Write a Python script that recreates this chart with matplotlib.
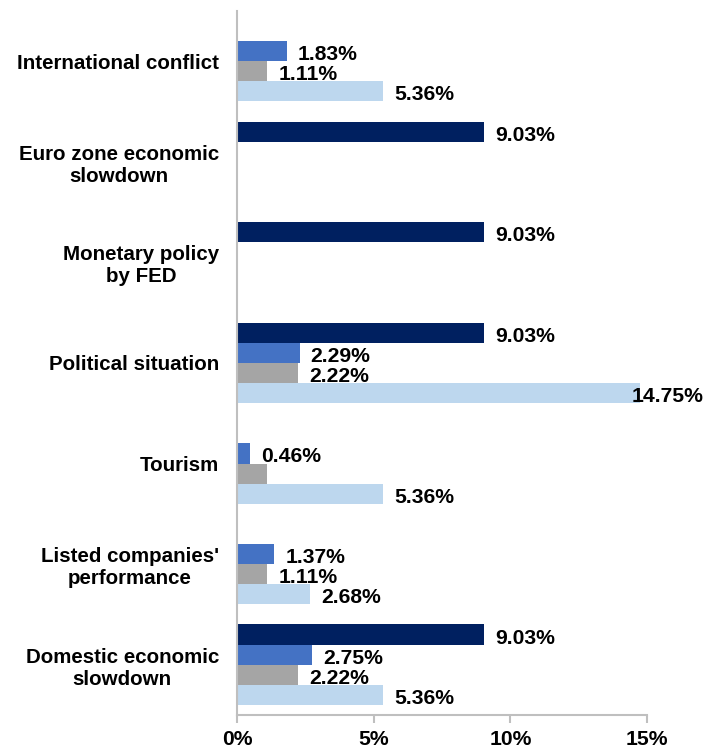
import matplotlib
matplotlib.use("Agg")
import matplotlib.pyplot as plt
import numpy as np

plt.rcParams['font.family'] = ['Liberation Sans', 'DejaVu Sans']

categories = ["International conflict", "Euro zone economic\nslowdown", "Monetary policy\nby FED",
              "Political situation", "Tourism", "Listed companies'\nperformance", "Domestic economic\nslowdown"]
series_navy = [0, 9.03, 9.03, 9.03, 0, 0, 9.03]
series_blue = [1.83, 0, 0, 2.29, 0.46, 1.37, 2.75]
series_gray = [1.11, 0, 0, 2.22, 1.11, 1.11, 2.22]
series_light = [5.36, 0, 0, 14.75, 5.36, 2.68, 5.36]
# which labels are shown (tourism gray label absent in reference)
show_gray = [True, False, False, True, False, True, True]
xticks = [0, 5, 10, 15]
xtick_labels = ["0%", "5%", "10%", "15%"]

colors = ["#002060", "#4472C4", "#A5A5A5", "#BDD7EE"]
series = [series_navy, series_blue, series_gray, series_light]
offsets = [-0.3, -0.1, 0.1, 0.3]

fig = plt.figure(figsize=(7.16, 7.49), dpi=100)
ax = fig.add_axes([0.331, 0.0454, 0.5726, 0.94])

y = np.arange(len(categories))
FS_CAT = 14.8
FS_LBL = 15.2
for si, (vals, col, off) in enumerate(zip(series, colors, offsets)):
    ax.barh(y + off, vals, height=0.2, color=col, zorder=2)
    for i, v in enumerate(vals):
        if v <= 0:
            continue
        if si == 2 and not show_gray[i]:
            continue
        lbl = f"{v:.2f}%"
        if v > 14:
            ax.annotate(lbl, xy=(1.0, y[i] + off), xycoords=('figure fraction', 'data'),
                        xytext=(-9, -2.5), textcoords='offset points',
                        ha='right', va='center', fontsize=FS_LBL, fontweight='bold', color='black',
                        annotation_clip=False, zorder=5)
        else:
            ax.annotate(lbl, xy=(v, y[i] + off), xytext=(8, -2.5), textcoords='offset points',
                        ha='left', va='center', fontsize=FS_LBL, fontweight='bold', color='black',
                        annotation_clip=False, zorder=5)

ax.set_ylim(len(categories) - 0.5, -0.5)
ax.set_xlim(0, 15)
ax.set_yticks(y)
ax.set_yticklabels(categories, fontsize=FS_CAT, fontweight='bold', ha='right', multialignment='center')
ax.tick_params(axis='y', length=0, pad=13)
ax.set_xticks(xticks)
ax.set_xticklabels(xtick_labels, fontsize=FS_LBL, fontweight='bold')
ax.tick_params(axis='x', length=6, width=1.5, color='#BFBFBF', direction='out', pad=5)

for s in ['top', 'right']:
    ax.spines[s].set_visible(False)
for s in ['left', 'bottom']:
    ax.spines[s].set_color('#BFBFBF')
    ax.spines[s].set_linewidth(1.5)

fig.savefig("out.png", dpi=100)
